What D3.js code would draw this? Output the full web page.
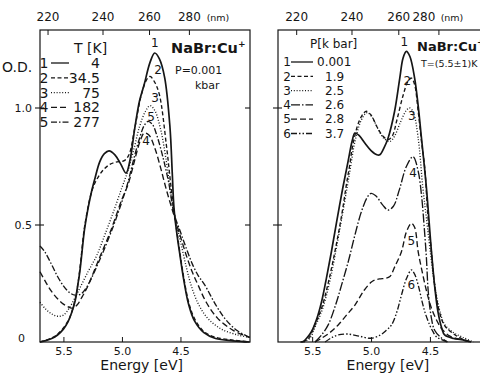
<!DOCTYPE html>
<html>
<head>
<meta charset="utf-8">
<script src="https://cdn.jsdelivr.net/npm/d3@7"></script>
<style>
  body { margin: 0; background: #fff; }
  svg { display: block; font-family: 'DejaVu Sans', sans-serif; }
</style>
</head>
<body>
<div id="chart"></div>
<script>
// ---- data (energy in eV, optical density) ----
const energyTicks = [5.5, 5.0, 4.5];
const nmTicks = [220, 240, 260, 280];
const odTicks = [0, 0.5, 1.0];

// temperature series, P = 0.001 kbar
const tempLabels = ['4', '34.5', '75', '182', '277'];
const t4 = [[5.70,0.000],[5.66,0.005],[5.60,0.015],[5.55,0.030],[5.50,0.055],[5.46,0.087],[5.43,0.125],[5.40,0.175],[5.38,0.235],[5.36,0.300],[5.34,0.390],[5.32,0.480],[5.29,0.570],[5.26,0.642],[5.23,0.700],[5.19,0.770],[5.15,0.805],[5.11,0.817],[5.06,0.800],[5.01,0.760],[4.965,0.722],[4.93,0.780],[4.89,0.915],[4.85,1.030],[4.81,1.100],[4.76,1.195],[4.72,1.235],[4.68,1.210],[4.635,1.130],[4.59,0.920],[4.57,0.720],[4.555,0.570],[4.53,0.460],[4.51,0.390],[4.47,0.260],[4.43,0.160],[4.38,0.090],[4.30,0.040],[4.20,0.015],[4.05,0.005],[3.91,0.000]];
const t34 = [[5.70,0.000],[5.60,0.017],[5.55,0.033],[5.46,0.090],[5.40,0.180],[5.36,0.310],[5.32,0.490],[5.26,0.640],[5.22,0.690],[5.16,0.735],[5.10,0.760],[5.04,0.770],[4.98,0.775],[4.94,0.800],[4.89,0.915],[4.835,1.055],[4.79,1.120],[4.76,1.135],[4.72,1.110],[4.68,1.057],[4.62,0.840],[4.58,0.660],[4.555,0.560],[4.53,0.470],[4.51,0.400],[4.47,0.270],[4.43,0.170],[4.38,0.100],[4.30,0.045],[4.20,0.020],[4.05,0.008],[3.91,0.000]];
const t75 = [[5.70,0.170],[5.65,0.140],[5.60,0.120],[5.55,0.110],[5.50,0.115],[5.45,0.145],[5.40,0.190],[5.375,0.215],[5.29,0.300],[5.215,0.370],[5.147,0.457],[5.07,0.560],[5.00,0.660],[4.95,0.730],[4.90,0.820],[4.85,0.920],[4.80,0.985],[4.76,1.010],[4.72,0.990],[4.67,0.910],[4.62,0.770],[4.59,0.660],[4.555,0.550],[4.50,0.430],[4.45,0.320],[4.41,0.244],[4.35,0.165],[4.265,0.100],[4.15,0.055],[4.01,0.030],[3.91,0.020]];
const t182 = [[5.70,0.300],[5.65,0.255],[5.60,0.215],[5.55,0.185],[5.50,0.162],[5.45,0.148],[5.42,0.145],[5.38,0.160],[5.347,0.187],[5.30,0.230],[5.20,0.350],[5.10,0.470],[5.00,0.610],[4.95,0.670],[4.90,0.760],[4.874,0.810],[4.84,0.865],[4.81,0.893],[4.77,0.885],[4.72,0.830],[4.67,0.745],[4.62,0.650],[4.555,0.540],[4.50,0.450],[4.45,0.370],[4.40,0.300],[4.35,0.244],[4.28,0.170],[4.18,0.100],[4.05,0.050],[3.91,0.020]];
const t277 = [[5.70,0.410],[5.66,0.386],[5.60,0.330],[5.55,0.280],[5.50,0.240],[5.45,0.212],[5.40,0.200],[5.35,0.205],[5.30,0.235],[5.20,0.340],[5.10,0.460],[5.00,0.600],[4.95,0.680],[4.90,0.780],[4.85,0.870],[4.81,0.925],[4.777,0.943],[4.74,0.930],[4.70,0.880],[4.65,0.790],[4.60,0.680],[4.555,0.550],[4.50,0.470],[4.45,0.400],[4.40,0.335],[4.35,0.285],[4.293,0.244],[4.20,0.160],[4.12,0.100],[4.02,0.050],[3.91,0.020]];

// pressure series, T = 5.5 K
const pressLabels = ['0.001', '1.9', '2.5', '2.6', '2.8', '3.7'];
const p0001 = [[5.60,0.000],[5.575,0.002],[5.54,0.020],[5.505,0.045],[5.46,0.100],[5.42,0.172],[5.38,0.270],[5.335,0.390],[5.29,0.520],[5.24,0.658],[5.195,0.772],[5.16,0.860],[5.137,0.893],[5.10,0.882],[5.053,0.850],[5.00,0.818],[4.95,0.800],[4.926,0.800],[4.89,0.830],[4.855,0.872],[4.80,0.986],[4.756,1.128],[4.728,1.214],[4.70,1.242],[4.67,1.220],[4.63,1.128],[4.60,1.010],[4.572,0.872],[4.53,0.660],[4.487,0.386],[4.46,0.240],[4.432,0.130],[4.40,0.060],[4.375,0.030],[4.30,0.015],[4.233,0.010],[4.15,0.000]];
const p19 = [[5.58,0.000],[5.53,0.016],[5.48,0.070],[5.42,0.144],[5.36,0.260],[5.307,0.386],[5.25,0.540],[5.21,0.670],[5.18,0.760],[5.152,0.850],[5.10,0.945],[5.06,0.980],[5.038,0.986],[5.00,0.970],[4.95,0.920],[4.90,0.880],[4.855,0.865],[4.82,0.880],[4.78,0.950],[4.73,1.050],[4.69,1.110],[4.657,1.128],[4.63,1.100],[4.60,0.986],[4.57,0.850],[4.544,0.744],[4.516,0.530],[4.49,0.400],[4.46,0.244],[4.42,0.130],[4.375,0.070],[4.30,0.035],[4.233,0.015],[4.15,0.000]];
const p25 = [[5.57,0.000],[5.52,0.016],[5.47,0.070],[5.41,0.144],[5.35,0.260],[5.30,0.386],[5.245,0.540],[5.20,0.670],[5.17,0.760],[5.14,0.850],[5.09,0.940],[5.05,0.975],[5.03,0.980],[4.99,0.960],[4.94,0.910],[4.89,0.870],[4.84,0.857],[4.80,0.880],[4.75,0.940],[4.70,0.990],[4.671,1.000],[4.64,0.980],[4.60,0.872],[4.56,0.658],[4.53,0.530],[4.50,0.400],[4.46,0.244],[4.42,0.140],[4.375,0.075],[4.30,0.040],[4.22,0.020],[4.13,0.000]];
const p26 = [[5.476,0.000],[5.42,0.030],[5.364,0.073],[5.30,0.160],[5.25,0.244],[5.19,0.350],[5.137,0.457],[5.08,0.560],[5.03,0.620],[5.00,0.635],[4.96,0.625],[4.90,0.585],[4.855,0.564],[4.81,0.580],[4.76,0.650],[4.70,0.750],[4.643,0.792],[4.60,0.730],[4.57,0.620],[4.55,0.500],[4.53,0.360],[4.515,0.220],[4.49,0.110],[4.46,0.050],[4.40,0.016],[4.35,0.000]];
const p28 = [[5.476,0.000],[5.42,0.016],[5.35,0.040],[5.279,0.073],[5.20,0.120],[5.137,0.158],[5.06,0.220],[5.00,0.255],[4.968,0.265],[4.92,0.270],[4.88,0.272],[4.84,0.280],[4.80,0.320],[4.742,0.386],[4.70,0.470],[4.657,0.507],[4.63,0.490],[4.60,0.386],[4.572,0.315],[4.53,0.220],[4.487,0.144],[4.44,0.090],[4.403,0.058],[4.33,0.025],[4.233,0.010],[4.15,0.000]];
const p37 = [[5.39,0.000],[5.33,0.020],[5.279,0.030],[5.20,0.034],[5.10,0.025],[5.00,0.016],[4.92,0.030],[4.87,0.050],[4.826,0.073],[4.78,0.130],[4.742,0.200],[4.70,0.270],[4.657,0.308],[4.63,0.290],[4.60,0.244],[4.57,0.180],[4.544,0.130],[4.50,0.070],[4.474,0.044],[4.44,0.020],[4.40,0.010],[4.35,0.000]];

// ---- layout ----
const WIDTH = 480, HEIGHT = 374;
const TOP = 30, BOTTOM = 342;
const HC = 1239.84; // eV*nm
const INK = '#161616';

const svg = d3.select('#chart').append('svg')
  .attr('width', WIDTH).attr('height', HEIGHT);
svg.append('rect').attr('width', WIDTH).attr('height', HEIGHT).attr('fill', '#fff');

const scaleY = d3.scaleLinear().domain([0, 1]).range([BOTTOM, 108]);

const panels = [
  {
    x: d3.scaleLinear().domain([5.70, 3.906]).range([40, 250]),
    curves: [t4, t34, t75, t182, t277],
    dashes: [null, '4,2.5', '1,1.8', '6,3', '6,2,1.5,2'],
    labels: tempLabels,
    head: 'T [K]', headX: 74, headY: 53, headSize: 14,
    legY: 63, legStep: 14.8, digitX: 44, lineX: [51, 69], valSize: 14,
    valX: () => 100, valAnchor: 'end',
    peakOff: [[0, -10], [8, -7], [5, -8], [2, 8], [3, -5]],
    peakSize: 12,
    title: [171, 53], titleSize: 14.5,
    sub: ['P=0.001', 175, 74, 'kbar', 195, 89],
    nmX: 218, nm280dx: 0, showOD: true,
  },
  {
    x: d3.scaleLinear().domain([5.79, 3.99]).range([278, 490]),
    curves: [p0001, p19, p25, p26, p28, p37],
    dashes: [null, '4,2.5', '1,1.8', '9,2,1.5,2', '6,3', '6,2,1.5,2,1.5,2'],
    labels: pressLabels,
    head: 'P[k bar]', headX: 310, headY: 48, headSize: 12,
    legY: 62, legStep: 14.3, digitX: 287, lineX: [291, 313], valSize: 12,
    valX: (s) => s.length > 3 ? 317 : 325, valAnchor: 'start',
    peakOff: [[-2, -10], [-4, 3], [2, 8], [0, 16], [0, 17], [0, 15]],
    peakSize: 12,
    title: [417, 51], titleSize: 13,
    sub: ['T=(5.5±1)K', 421, 67, null],
    nmX: 452, nm280dx: -15, showOD: false,
  },
];

panels.forEach(drawPanel);

function drawPanel(p) {
  const g = svg.append('g');
  const [x0, x1] = p.x.range();

  // frame
  g.append('rect')
    .attr('x', x0).attr('y', TOP)
    .attr('width', x1 - x0).attr('height', BOTTOM - TOP)
    .attr('fill', 'none').attr('stroke', INK).attr('stroke-width', 1.2);

  // bottom energy axis
  const axisB = d3.axisBottom(p.x)
    .tickValues(energyTicks).tickSize(-5).tickPadding(5)
    .tickFormat(d3.format('.1f'));
  g.append('g')
    .attr('transform', `translate(0,${BOTTOM})`)
    .call(axisB)
    .call((s) => s.select('.domain').remove())
    .attr('font-family', null).attr('font-size', 11).attr('color', INK);

  // top wavelength axis
  const axisT = d3.axisTop(p.x)
    .tickValues(nmTicks.map((n) => HC / n)).tickSize(-5).tickPadding(9)
    .tickFormat((d, i) => nmTicks[i]);
  const top = g.append('g')
    .attr('transform', `translate(0,${TOP})`)
    .call(axisT)
    .call((s) => s.select('.domain').remove())
    .attr('font-family', null).attr('font-size', 12).attr('color', INK);
  top.selectAll('.tick text').filter((d, i) => i === nmTicks.length - 1)
    .attr('dx', p.nm280dx);
  g.append('text')
    .attr('x', p.nmX).attr('y', 21)
    .attr('text-anchor', 'middle').attr('font-size', 9.5).attr('fill', INK)
    .text('(nm)');

  // y ticks crossing the frame
  g.selectAll('.ytick')
    .data(odTicks.filter((v) => v > 0))
    .join('line')
    .attr('x1', x0 - 5).attr('x2', x0 + 4)
    .attr('y1', (d) => scaleY(d)).attr('y2', (d) => scaleY(d))
    .attr('stroke', INK).attr('stroke-width', 1.1);
  if (x1 < WIDTH) {
    g.selectAll('.ytickR')
      .data(odTicks.filter((v) => v > 0))
      .join('line')
      .attr('x1', x1 - 5).attr('x2', x1)
      .attr('y1', (d) => scaleY(d)).attr('y2', (d) => scaleY(d))
      .attr('stroke', INK).attr('stroke-width', 1.1);
  }

  if (p.showOD) {
    g.selectAll('.ylab')
      .data(odTicks)
      .join('text')
      .attr('x', (d) => (d === 0 ? 25 : 32))
      .attr('y', (d) => scaleY(d) + (d === 0 ? -4 : 0))
      .attr('dy', '0.35em')
      .attr('text-anchor', 'end').attr('font-size', 11).attr('fill', INK)
      .text((d) => (d === 0 ? '0' : d.toFixed(1)));
    g.append('text')
      .attr('x', 2).attr('y', 72)
      .attr('font-size', 14).attr('fill', INK)
      .text('O.D.');
  }

  // axis title
  g.append('text')
    .attr('x', p.x(4.9) + (p.showOD ? 8 : 5)).attr('y', 370)
    .attr('text-anchor', 'middle').attr('font-size', 14).attr('fill', INK)
    .text('Energy [eV]');

  // curves
  const line = d3.line()
    .x((d) => p.x(d[0]))
    .y((d) => scaleY(d[1]))
    .curve(d3.curveCatmullRom.alpha(0.5));

  p.curves.forEach((c, i) => {
    g.append('path')
      .datum(c)
      .attr('d', line)
      .attr('fill', 'none')
      .attr('stroke', INK)
      .attr('stroke-width', i === 0 ? 1.7 : 1.35)
      .attr('stroke-dasharray', p.dashes[i]);

    // peak number
    const pk = c.reduce((a, b) => (b[1] > a[1] ? b : a));
    g.append('text')
      .attr('x', p.x(pk[0]) + p.peakOff[i][0])
      .attr('y', scaleY(pk[1]) + p.peakOff[i][1])
      .attr('dy', '0.35em')
      .attr('text-anchor', 'middle').attr('font-size', p.peakSize)
      .attr('fill', INK)
      .text(i + 1);
  });

  // legend
  g.append('text')
    .attr('x', p.headX).attr('y', p.headY)
    .attr('font-size', p.headSize).attr('fill', INK)
    .text(p.head);

  const rows = g.selectAll('.row')
    .data(p.labels)
    .join('g')
    .attr('transform', (d, i) => `translate(0,${p.legY + i * p.legStep})`);
  rows.append('text')
    .attr('x', p.digitX).attr('dy', '0.35em')
    .attr('text-anchor', 'middle').attr('font-size', p.valSize).attr('fill', INK)
    .text((d, i) => i + 1);
  rows.append('line')
    .attr('x1', p.lineX[0]).attr('x2', p.lineX[1])
    .attr('stroke', INK).attr('stroke-width', 1.3)
    .attr('stroke-dasharray', (d, i) => p.dashes[i]);
  rows.append('text')
    .attr('x', (d) => p.valX(d)).attr('dy', '0.35em')
    .attr('text-anchor', p.valAnchor).attr('font-size', p.valSize).attr('fill', INK)
    .text((d) => d);

  // sample name
  const t = g.append('text')
    .attr('x', p.title[0]).attr('y', p.title[1])
    .attr('font-size', p.titleSize).attr('font-weight', 'bold').attr('fill', INK);
  t.append('tspan').text('NaBr:Cu');
  t.append('tspan').attr('dy', -6).attr('font-size', 9).text('+');

  g.append('text')
    .attr('x', p.sub[1]).attr('y', p.sub[2])
    .attr('font-size', p.sub[3] ? 11 : 9.5).attr('fill', INK)
    .text(p.sub[0]);
  if (p.sub[3]) {
    g.append('text')
      .attr('x', p.sub[4]).attr('y', p.sub[5])
      .attr('font-size', 11).attr('fill', INK)
      .text(p.sub[3]);
  }
}
</script>
</body>
</html>
